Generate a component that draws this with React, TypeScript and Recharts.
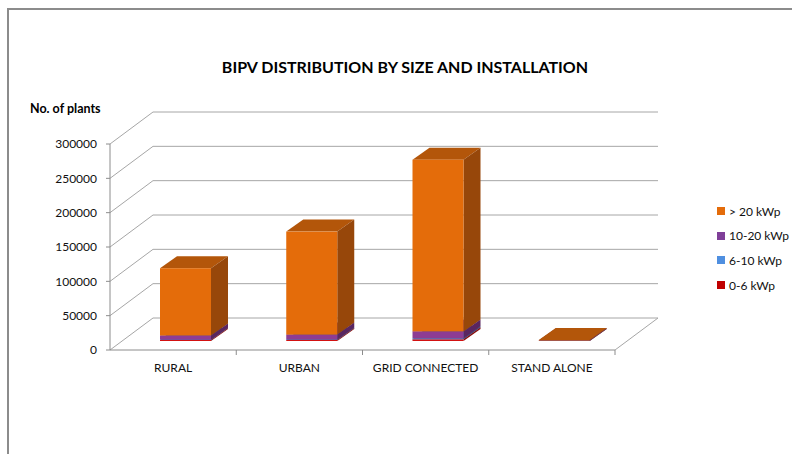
import { Bar, BarChart, CartesianGrid, Legend, XAxis, YAxis } from "recharts";

const categories = ["RURAL", "URBAN", "GRID CONNECTED", "STAND ALONE"];
const size0to6 = [1500, 1500, 2500, 300];
const size6to10 = [500, 800, 1500, 100];
const size10to20 = [6000, 7000, 10000, 200];
const sizeOver20 = [98000, 150000, 250000, 700];
const yTicks = [0, 50000, 100000, 150000, 200000, 250000, 300000];

const data = categories.map((name, i) => ({
  name,
  s1: size0to6[i],
  s2: size6to10[i],
  s3: size10to20[i],
  s4: sizeOver20[i],
}));

// stacking order bottom -> top
const series = [
  { key: "s1", label: "0-6 kWp", front: "#D21111", side: "#8A0A0A", top: "#A50D0D", icon: "#C00000" },
  { key: "s2", label: "6-10 kWp", front: "#4A8CD8", side: "#2E5A8C", top: "#3A70B0", icon: "#4F8FE0" },
  { key: "s3", label: "10-20 kWp", front: "#8E3C93", side: "#5A2660", top: "#6E2F74", icon: "#7F3F98" },
  { key: "s4", label: "> 20 kWp", front: "#E46C0A", side: "#97470A", top: "#B3560A", icon: "#E46C0A" },
];

// 3d geometry
const WALL_X = 43;
const WALL_Y = 32;
const OFF_X = 12;
const OFF_Y = 9;
const DEP_X = 17;
const DEP_Y = 12;
const AXIS = "#8c8c8c";
const FONT = "Lato, 'Open Sans', sans-serif";

const makeBox = (s) => (props) => {
  const { x, y, width: w, height: h } = props;
  if (w == null || h == null) return null;
  const fx = x + OFF_X;
  const fy = y - OFF_Y;
  const side = `${fx + w},${fy} ${fx + w + DEP_X},${fy - DEP_Y} ${fx + w + DEP_X},${fy + h - DEP_Y} ${fx + w},${fy + h}`;
  const top = `${fx},${fy} ${fx + DEP_X},${fy - DEP_Y} ${fx + w + DEP_X},${fy - DEP_Y} ${fx + w},${fy}`;
  return (
    <g>
      <polygon points={top} fill={s.top} />
      <polygon points={side} fill={s.side} />
      <rect x={fx} y={fy} width={w} height={h} fill={s.front} />
    </g>
  );
};

const gridLine = (p) => (
  <g key={`g-${p.index}`} stroke="#a6a6a6" strokeWidth={1}>
    <line x1={p.x1} y1={p.y1} x2={p.x1 + WALL_X} y2={p.y1 - WALL_Y} />
    <line x1={p.x1 + WALL_X} y1={p.y1 - WALL_Y} x2={p.x2 + WALL_X} y2={p.y2 - WALL_Y} />
    {p.index === 0 && <line x1={p.x2} y1={p.y2} x2={p.x2 + WALL_X} y2={p.y2 - WALL_Y} />}
  </g>
);

const CategoryTick = (props) => {
  const { x, y, payload, width, visibleTicksCount } = props;
  const band = width / visibleTicksCount;
  return (
    <g>
      <line x1={x + band / 2} y1={y - 5} x2={x + band / 2} y2={y} stroke={AXIS} />
      <text x={x} y={y + 17} textAnchor="middle" fontSize={12} fill="#111" fontFamily={FONT}>
        {payload.value}
      </text>
    </g>
  );
};

const renderLegend = () => (
  <div style={{ fontFamily: FONT, fontSize: 12, color: "#111" }}>
    {[...series].reverse().map((s) => (
      <div key={s.key} style={{ display: "flex", alignItems: "center", height: 24.6 }}>
        <span style={{ width: 8, height: 8, background: s.icon, marginRight: 4 }} />
        <span>{s.label}</span>
      </div>
    ))}
  </div>
);

export default function App() {
  return (
    <div style={{ position: "absolute", left: 0, top: 0, width: 792, height: 454, background: "#fff" }}>
      <div
        style={{
          position: "absolute",
          left: 7,
          top: 8,
          right: 0,
          bottom: 0,
          borderTop: "2px solid #8c8c8c",
          borderLeft: "2px solid #8c8c8c",
        }}
      />
      <div
        style={{
          position: "absolute",
          left: 0,
          width: 810,
          top: 57,
          textAlign: "center",
          fontFamily: FONT,
          fontWeight: "bold",
          fontSize: 16,
          color: "#000",
        }}
      >
        BIPV DISTRIBUTION BY SIZE AND INSTALLATION
      </div>
      <div
        style={{
          position: "absolute",
          left: 30,
          top: 101,
          fontFamily: FONT,
          fontWeight: "bold",
          fontSize: 12.5,
          color: "#000",
        }}
      >
        No. of plants
      </div>
      <BarChart
        width={792}
        height={454}
        data={data}
        margin={{ top: 144, right: 177, bottom: 74, left: 50 }}
        style={{ position: "absolute", left: 0, top: 0 }}
        barSize={51}
      >
        <CartesianGrid vertical={false} horizontal={gridLine} syncWithTicks />
        <XAxis
          dataKey="name"
          height={30}
          tickLine={false}
          tickSize={5}
          tickMargin={0}
          axisLine={{ stroke: AXIS }}
          tick={<CategoryTick />}
          interval={0}
        />
        <YAxis
          width={60}
          domain={[0, 300000]}
          ticks={yTicks}
          tickSize={4}
          tickMargin={9}
          axisLine={{ stroke: AXIS }}
          tickLine={{ stroke: AXIS }}
          tick={{ fontSize: 12, fill: "#111", fontFamily: FONT }}
        />
        {series.map((s) => (
          <Bar
            key={s.key}
            dataKey={s.key}
            name={s.label}
            stackId="a"
            fill={s.front}
            shape={makeBox(s)}
            isAnimationActive={false}
          />
        ))}
        <Legend
          layout="horizontal"
          verticalAlign="middle"
          content={renderLegend}
          wrapperStyle={{ left: 717, top: 199, width: 80 }}
        />
      </BarChart>
    </div>
  );
}
